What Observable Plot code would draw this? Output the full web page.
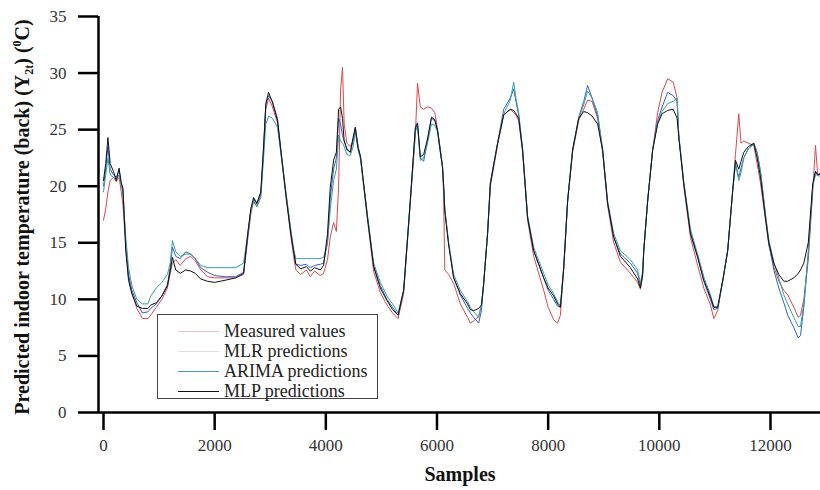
<!DOCTYPE html>
<html><head><meta charset="utf-8">
<script src="https://cdn.jsdelivr.net/npm/d3@7"></script>
<script src="https://cdn.jsdelivr.net/npm/@observablehq/plot@0.6"></script>
<style>
body{margin:0;background:#fff;}
#wrap{position:relative;width:820px;height:490px;overflow:hidden;}
#wrap svg, #wrap svg text{font-family:"Liberation Serif","Times New Roman",serif !important;}
.legend{position:absolute;left:157px;top:314px;width:219px;height:83px;border:1.5px solid #444;background:#fff;font-family:"Liberation Serif","Times New Roman",serif !important;font-size:18px;color:#222;}
.row{position:absolute;left:0;height:20px;line-height:20px;}
.sw{position:absolute;left:20px;top:10px;width:41px;height:0;border-top:1.2px solid #000;}
.lb{position:absolute;left:66px;top:0;white-space:nowrap;}
</style></head>
<body><div id="wrap"></div>
<script>
const samples = [0,40,80,120,180,230,280,320,350,400,450,510,600,700,800,850,950,1050,1150,1200,1240,1300,1380,1480,1570,1650,1750,1870,2000,2200,2380,2520,
2600,2650,2700,2760,2830,2880,2920,2970,3040,3130,3190,3280,3370,3420,3460,3550,3650,3720,3800,3900,3960,
4030,4080,4140,4190,4230,4265,4300,4330,4380,4440,4490,4530,4580,4625,4750,4860,4980,5100,5200,5300,
5400,5520,5610,5650,5700,5760,5830,5900,5960,6010,6060,6100,6120,6140,6210,6300,6420,6550,6600,6660,6750,6800,
6840,6910,6960,7090,7200,7320,7380,7420,7470,7540,7630,7740,7920,8000,8100,8170,8220,
8280,8350,8440,8550,8640,8710,8790,8890,8980,9070,9180,9300,9480,9610,9660,9700,
9720,9790,9880,9970,10050,10150,10250,10320,10350,10440,10560,10690,10800,10920,10980,11050,
11150,11230,11320,11370,11430,11470,11520,11600,11700,11760,11820,11910,11970,12060,12150,12240,12310,12420,12500,12540,12600,12680,12760,12810,12850,12900];

const measured = [17.0,18.0,19.5,20.5,20.8,20.4,20.8,19.5,18.3,14.8,12.0,10.6,9.2,8.3,8.3,8.6,9.3,10.0,11.0,12.3,13.2,13.5,13.0,13.6,13.8,13.4,12.6,12.0,11.9,11.9,11.9,12.2,
15.5,17.5,18.7,18.2,19.2,23.0,26.8,27.8,27.0,25.6,23.0,19.2,15.6,13.8,12.6,12.2,12.6,12.0,12.5,12.1,12.3,
13.5,15.5,16.8,16.0,20.0,28.5,30.5,25.5,23.8,23.5,24.0,25.0,23.5,22.4,17.0,12.5,10.6,9.5,8.8,8.3,
10.5,18.5,24.5,29.1,27.0,26.8,27.0,26.9,26.5,25.0,23.0,21.8,19.0,12.6,12.2,11.4,9.6,8.4,7.9,8.1,8.5,9.5,
11.4,15.8,20.0,23.6,26.3,26.8,26.5,26.3,25.8,23.0,17.0,13.8,10.8,9.3,8.2,7.9,8.6,
12.6,18.5,23.0,25.8,26.8,27.6,27.5,26.0,23.0,18.3,15.0,13.3,12.3,11.5,10.9,12.0,
14.3,18.7,23.2,26.5,28.3,29.5,29.2,27.8,24.5,20.0,15.5,13.0,11.0,9.5,8.3,9.0,
11.9,14.3,19.6,22.8,26.4,23.8,24.0,23.8,23.6,22.0,20.3,17.0,14.8,12.9,11.6,10.8,10.4,9.3,8.4,8.6,10.0,13.5,19.5,23.6,21.0,21.2];

const mlr = [20.0,21.5,23.5,21.5,21.0,20.8,21.4,20.2,19.6,15.0,12.2,10.8,9.7,8.8,8.9,9.2,9.6,10.3,11.3,12.8,14.6,13.8,13.6,14.2,14.0,13.6,12.8,12.4,12.1,12.0,12.0,12.4,
15.8,17.8,18.9,18.4,19.4,23.3,27.2,28.0,27.5,26.0,23.3,19.5,16.0,14.2,13.1,13.0,13.1,12.8,13.0,13.1,13.2,
15.0,19.0,21.5,22.5,26.0,25.5,24.5,24.0,23.2,23.0,24.0,25.2,23.5,22.6,17.3,13.0,11.2,10.0,9.3,8.6,
10.8,18.7,25.0,25.5,22.5,22.2,24.0,26.0,25.8,25.0,23.3,21.7,20.0,18.0,14.9,11.9,10.4,9.2,8.8,8.4,7.9,9.0,
11.4,15.8,20.3,23.8,26.8,27.8,28.6,27.5,26.3,23.3,17.3,14.3,11.9,10.8,10.0,9.4,9.3,
12.8,18.7,23.2,26.1,27.5,28.9,27.8,26.2,23.2,18.5,15.5,14.0,13.2,12.3,11.2,12.3,
14.3,18.7,23.2,25.8,27.0,28.3,28.0,27.5,24.5,20.3,16.0,13.8,11.6,10.0,9.1,9.2,
11.9,14.3,19.6,22.0,20.8,21.6,22.5,23.3,23.8,23.0,21.3,17.5,15.0,12.6,11.0,9.7,8.6,7.5,6.6,6.8,9.3,14.0,20.0,21.3,21.0,21.0];

const arima = [19.5,21.0,22.5,21.0,20.8,20.6,21.0,20.0,19.4,15.5,12.8,11.2,10.0,9.6,9.6,10.3,11.0,11.5,12.2,13.2,15.2,14.2,13.8,14.0,14.0,13.6,13.0,12.8,12.8,12.8,12.8,13.2,
16.0,17.8,18.7,18.2,19.0,22.5,25.5,26.2,26.0,25.2,23.0,19.5,16.2,14.5,13.6,13.6,13.6,13.6,13.6,13.6,13.7,
15.0,18.0,20.5,21.5,24.5,24.0,23.8,23.5,22.8,22.7,23.5,24.8,23.2,22.4,17.4,13.2,11.5,10.3,9.6,8.8,
10.8,18.8,24.8,25.3,22.3,22.5,23.8,25.5,25.4,24.8,23.0,21.7,20.0,18.0,15.0,12.2,10.8,9.8,9.3,8.9,8.4,9.5,
11.4,15.8,20.3,23.8,26.4,27.6,29.2,27.8,26.5,23.3,17.4,14.6,12.3,11.3,10.5,9.8,9.4,
12.8,18.7,23.2,26.0,27.2,28.4,27.8,26.5,23.3,18.7,15.8,14.3,13.5,12.6,11.4,12.5,
14.3,18.7,23.2,25.6,26.6,27.3,27.5,27.8,24.5,20.4,16.2,14.0,12.0,10.4,9.4,9.3,
11.9,14.3,19.6,22.0,20.5,21.2,22.5,23.3,23.7,23.0,21.3,17.5,15.3,13.3,11.9,10.4,9.6,8.4,7.6,7.6,9.6,14.2,20.0,21.0,21.0,20.8];

const mlp = [20.5,22.0,24.3,22.0,21.3,20.5,21.6,20.3,19.8,14.3,11.7,10.5,9.4,9.2,9.2,9.5,9.7,10.3,11.2,12.5,13.7,12.6,12.3,12.6,12.5,12.3,11.8,11.6,11.5,11.7,11.9,12.3,
16.0,18.0,19.0,18.5,19.5,23.5,27.3,28.3,27.4,25.8,23.2,19.3,15.8,14.3,13.1,12.7,12.9,12.5,12.8,12.6,13.0,
15.8,19.9,22.3,23.0,26.8,27.0,26.0,24.0,23.3,23.0,24.3,25.2,23.4,22.6,17.2,12.9,11.0,9.9,9.1,8.6,
10.8,18.7,25.2,25.6,22.6,22.8,24.2,26.1,25.9,24.9,23.1,21.6,20.0,17.8,14.8,11.9,10.5,9.6,9.1,9.0,9.2,9.5,
11.4,15.8,20.2,23.8,26.3,26.8,26.7,26.4,26.0,23.2,17.2,14.3,11.9,11.0,10.3,9.6,9.3,
12.8,18.7,23.2,26.0,26.6,26.5,26.2,25.5,23.2,18.5,15.5,13.8,12.8,11.8,11.0,12.2,
14.3,18.7,23.2,25.5,26.4,26.7,26.8,26.0,24.3,20.2,15.8,13.7,11.7,10.2,9.3,9.3,
11.9,14.3,19.6,22.3,21.5,22.2,23.0,23.5,23.8,22.5,20.8,17.2,15.0,13.2,12.2,11.6,11.6,11.9,12.3,12.6,13.2,15.0,20.2,21.3,21.0,21.1];

const seriesNames = ["Measured values","MLR predictions","ARIMA predictions","MLP predictions"];
const seriesColors = ["#e0474c","#2f5fd0","#3a9ea0","#111111"];
const legendColors = ["#f2c4c8","#e6dcdc","#4b9bb5","#111111"];
const xTicks = [0,2000,4000,6000,8000,10000,12000];
const yTicks = [0,5,10,15,20,25,30,35];

const seriesValues = [measured, mlr, arima, mlp];
const table = seriesNames.flatMap((name, k) => samples.map((s, i) => ({x: s, y: seriesValues[k][i], series: name})));

const serif = "'Liberation Serif', 'Times New Roman', serif";
const plot = Plot.plot({
  width: 820, height: 490,
  marginLeft: 98, marginRight: 0, marginTop: 16, marginBottom: 78,
  style: {fontFamily: serif, fontSize: "17px", color: "#333", background: "#fff"},
  x: {domain: [-90, 12900]},
  y: {domain: [0, 35]},
  color: {domain: seriesNames, range: seriesColors},
  marks: [
    Plot.line(table, {x: "x", y: "y", z: "series", stroke: "series", strokeWidth: 1}),
    Plot.ruleX([-90], {y1: 0, y2: 35, stroke: "#000", strokeWidth: 2.5}),
    Plot.ruleY([0], {stroke: "#000", strokeWidth: 2.5}),
    Plot.axisY({ticks: yTicks, tickSize: 20, tickPadding: 12, strokeWidth: 2.5, stroke: "#000", label: null, fontFamily: serif, fontSize: 17, tickFormat: d => String(d)}),
    Plot.axisX({ticks: xTicks, tickSize: 18, tickPadding: 8, strokeWidth: 2.5, stroke: "#000", label: null, fontFamily: serif, fontSize: 17, tickFormat: d => String(d)})
  ]
});
document.getElementById("wrap").appendChild(plot);

const svg = d3.select(plot);
const yt = svg.append("text")
  .attr("transform", "translate(29,217) rotate(-90)")
  .attr("text-anchor", "middle")
  .attr("font-family", serif)
  .attr("font-weight", "bold")
  .attr("font-size", 20)
  .attr("fill", "#111");
yt.append("tspan").text("Predicted indoor temperature (back) (Y");
yt.append("tspan").attr("dy", 4).attr("font-size", 12).text("2t");
yt.append("tspan").attr("dy", -4).text(") (");
yt.append("tspan").attr("dy", -8).attr("font-size", 12).text("0");
yt.append("tspan").attr("dy", 8).text("C)");

svg.append("text")
  .attr("x", 460).attr("y", 481)
  .attr("text-anchor", "middle")
  .attr("font-family", serif)
  .attr("font-weight", "bold")
  .attr("font-size", 20)
  .attr("fill", "#111")
  .text("Samples");

const leg = document.createElement("div");
leg.className = "legend";
seriesNames.forEach((name, k) => {
  const row = document.createElement("div");
  row.className = "row";
  row.style.top = (6 + k * 20) + "px";
  row.style.width = "219px";
  const sw = document.createElement("div");
  sw.className = "sw";
  sw.style.borderTopColor = legendColors[k];
  const lb = document.createElement("div");
  lb.className = "lb";
  lb.textContent = name;
  row.appendChild(sw); row.appendChild(lb);
  leg.appendChild(row);
});
document.getElementById("wrap").appendChild(leg);
</script></body></html>
